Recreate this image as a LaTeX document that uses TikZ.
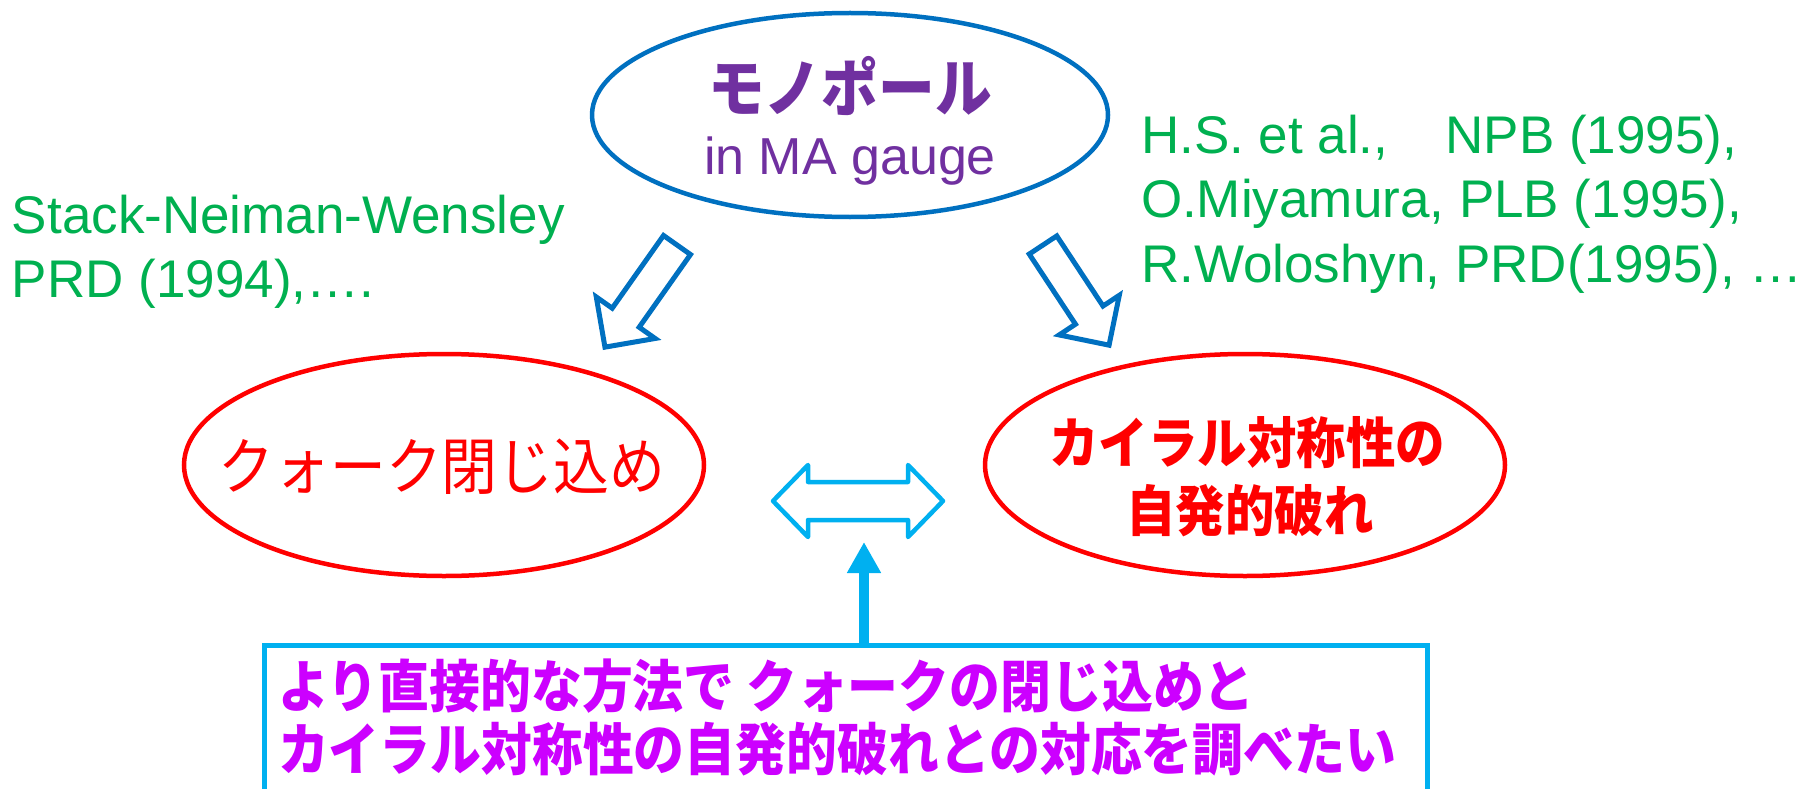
\documentclass[tikz,border=0pt]{standalone}
\usepackage{fontspec}
\setmainfont{Liberation Sans}
\newfontfamily\jpn{Noto Sans CJK JP}[FakeStretch=0.9]
\usetikzlibrary{shapes.geometric,arrows.meta,calc}
\definecolor{blueC}{HTML}{0070C0}
\definecolor{purpleC}{HTML}{7030A0}
\definecolor{redC}{HTML}{FF0000}
\definecolor{greenC}{HTML}{00B050}
\definecolor{cyanC}{HTML}{00B0F0}
\definecolor{magC}{HTML}{CC00FF}
\tikzset{
  ellbase/.style={ellipse, draw, line width=4.5pt, inner sep=0pt},
  txt/.style={inner sep=0pt, outer sep=0pt},
  blockarrow/.style={draw=blueC, line width=5pt, line join=miter},
  dblarrow/.style={draw=cyanC, line width=4.5pt, line join=round},
  uparr/.style={draw=cyanC, line width=10pt, -{Triangle[length=31pt,width=32pt]}},
  goalbox/.style={rectangle, draw=cyanC, line width=5pt, inner sep=0pt, anchor=north west},
  reftext/.style={txt, anchor=base west, align=left, text=greenC, font=\fontsize{53}{64.5}\selectfont}
}
\begin{document}
\begin{tikzpicture}[x=1pt,y=-1pt]
\useasboundingbox (0,0) rectangle (1815,789);
\clip (0,0) rectangle (1815,789);
% ellipses
\node[ellbase, draw=blueC, minimum width=516pt, minimum height=204pt] (mono) at (850,115) {};
\node[ellbase, draw=redC, minimum width=520pt, minimum height=222pt] (conf) at (444,465) {};
\node[ellbase, draw=redC, minimum width=520pt, minimum height=222pt] (chiral) at (1245,465) {};
% texts in ellipses
\node[txt, anchor=base, text=purpleC, font=\jpn\bfseries\fontsize{63}{70}\selectfont] (monot) at (850,112) {モノポール};
\node[txt, anchor=base, text=purpleC, font=\fontsize{52}{60}\selectfont] (monog) at (850,175) {in MA gauge};
\node[txt, anchor=base, text=redC, font=\jpn\fontsize{62}{70}\selectfont] (conft) at (442,489) {クォーク閉じ込め};
\node[txt, anchor=base, text=redC, font=\jpn\bfseries\fontsize{55}{68}\selectfont] (chiralt1) at (1247,463) {カイラル対称性の};
\node[txt, anchor=base, text=redC, font=\jpn\bfseries\fontsize{55}{68}\selectfont] (chiralt2) at (1250,531) {自発的破れ};
% references (base anchor = baseline of the last line)
\node[reftext] (refL) at (12,297.5) {Stack-Neiman-Wensley\\PRD (1994),….};
\node[reftext] (refR) at (1141,282) {H.S. et al.,\hspace{57pt}NPB (1995),\\O.Miyamura, PLB (1995),\\R.Woloshyn, PRD(1995), …};
% block arrows
\begin{scope}[shift={(677,245)}, rotate=-125.2]
\draw[blockarrow] (0,-16.5) -- (89,-16.5) -- (89,-36) -- (125,0) -- (89,36) -- (89,16.5) -- (0,16.5) -- cycle;
\end{scope}
\begin{scope}[shift={(1043,245)}, rotate=-56.6]
\draw[blockarrow] (0,-16.5) -- (84,-16.5) -- (84,-36) -- (120,0) -- (84,36) -- (84,16.5) -- (0,16.5) -- cycle;
\end{scope}
% double arrow
\coordinate (dbl) at (858,501);
\draw[dblarrow] (773,501) -- (808,465) -- (808,482) -- (908,482) -- (908,465) -- (943,501) -- (908,537) -- (908,520) -- (808,520) -- (808,537) -- cycle;
% goal box
\node[goalbox, minimum width=1163pt, minimum height=170pt] (goal) at (262,643) {};
\node[txt, anchor=base west, align=left, text=magC, font=\jpn\bfseries\fontsize{56.5}{62.5}\selectfont] (goalt) at (278,770) {より直接的な方法で クォークの閉じ込めと\\カイラル対称性の自発的破れとの対応を調べたい};
\coordinate (uptip) at ($(dbl)+(6,41)$);
\draw[uparr] (goal.north -| uptip) -- (uptip);
\end{tikzpicture}
\end{document}
